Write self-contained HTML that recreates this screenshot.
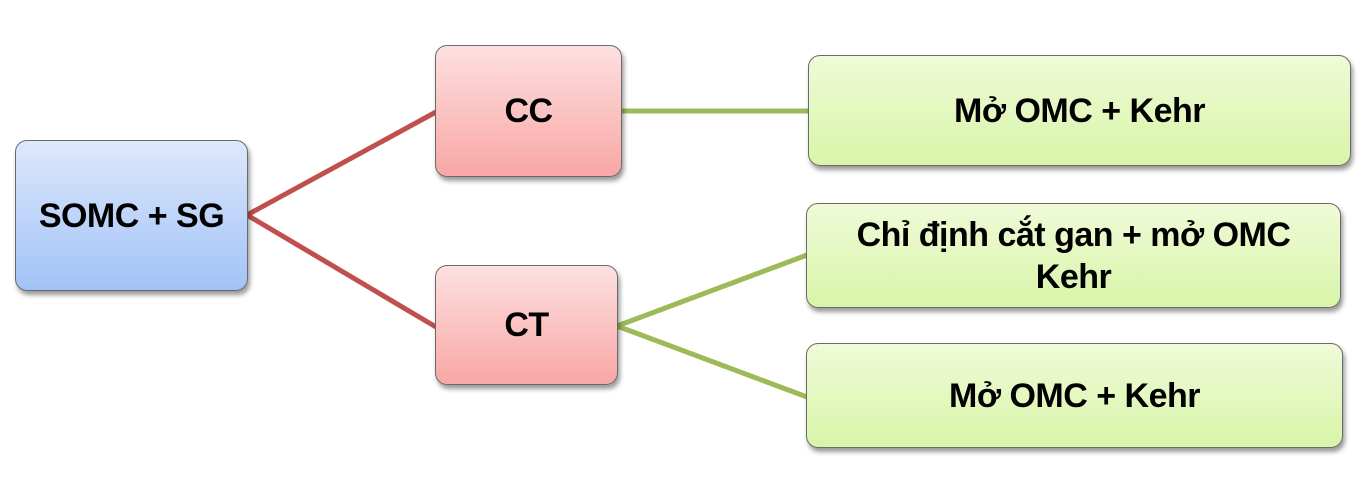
<!DOCTYPE html>
<html><head><meta charset="utf-8"><style>
body{margin:0;width:1366px;height:496px;background:#fff;position:relative;overflow:hidden;font-family:"Liberation Sans",sans-serif;}
.b{position:absolute;box-sizing:border-box;border:1.5px solid #6a6a6a;border-radius:12px;display:flex;align-items:center;justify-content:center;text-align:center;font-weight:bold;font-size:34px;color:#000;box-shadow:2px 4px 5px rgba(0,0,0,0.4);line-height:42px;letter-spacing:-0.5px}
.blue{background:linear-gradient(#dde8fb,#a2c2f7)}
.red{background:linear-gradient(#fde0e0,#f8a7a5)}
.grn{background:linear-gradient(#f0fad8,#d8f5a8)}
svg{position:absolute;left:0;top:0}
</style></head><body>
<svg width="1366" height="496">
<g stroke="#c0504d" stroke-width="5" fill="none"><path d="M247 215 L436 112 M247 215 L436 327"/></g>
<g stroke="#9bbb59" stroke-width="5" fill="none"><path d="M621 111 L809 111 M617 326 L807 255 M617 326 L807 397"/></g>
</svg>
<div class="b blue" style="left:15px;top:140px;width:233px;height:151px">SOMC + SG</div>
<div class="b red" style="left:435px;top:45px;width:187px;height:132px">CC</div>
<div class="b red" style="left:435px;top:265px;width:183px;height:120px">CT</div>
<div class="b grn" style="left:808px;top:55px;width:543px;height:111px">Mở OMC + Kehr</div>
<div class="b grn" style="left:806px;top:203px;width:535px;height:105px">Chỉ định cắt gan + mở OMC<br>Kehr</div>
<div class="b grn" style="left:806px;top:343px;width:537px;height:105px">Mở OMC + Kehr</div>
</body></html>
